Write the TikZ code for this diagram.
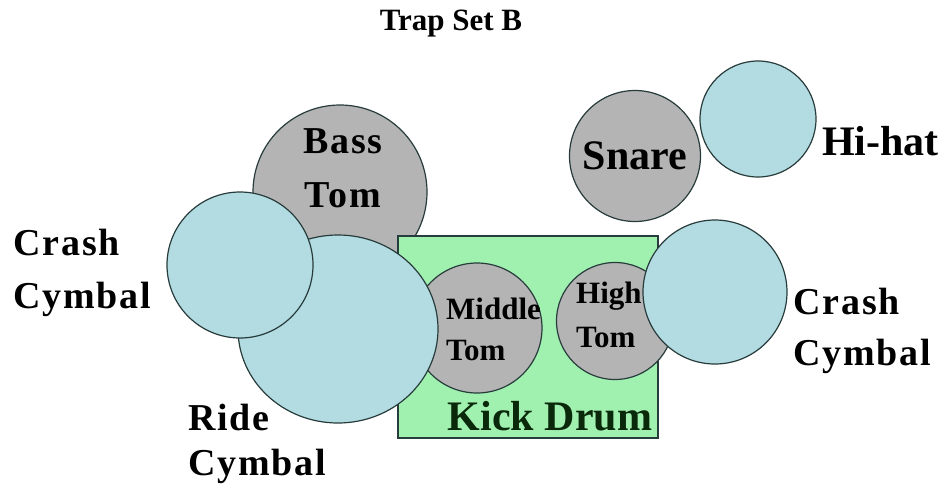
\documentclass[tikz,border=0pt]{standalone}
\usepackage{fontspec}
\setmainfont{Liberation Serif}
\newfontfamily\wideserif[LetterSpace=5]{Liberation Serif}
\usetikzlibrary{shapes,positioning}

\definecolor{drumgray}{RGB}{180,180,180}
\definecolor{cymblue}{RGB}{178,220,226}
\definecolor{kickgreen}{RGB}{160,240,176}
\definecolor{edge}{RGB}{40,60,60}
\definecolor{kicktext}{RGB}{10,40,10}

\begin{document}
\begin{tikzpicture}[
    x=1pt, y=-1pt,
    drum/.style={
        circle,
        draw=edge,
        fill=drumgray,
        line width=1.2pt,
        inner sep=0pt
    },
    cymbal/.style={
        circle,
        draw=edge,
        fill=cymblue,
        line width=1.2pt,
        inner sep=0pt
    },
    biglbl/.style={font=\bfseries\fontsize{42}{48}\selectfont, inner sep=0pt},
    widelbl/.style={font=\wideserif\bfseries\fontsize{38}{52}\selectfont, align=left, inner sep=0pt},
    tomlbl/.style={font=\bfseries\fontsize{31}{42}\selectfont, align=left, inner sep=0pt}
]
    \useasboundingbox (0,0) rectangle (945,491);

    % Title
    \node[font=\bfseries\fontsize{31}{36}\selectfont, anchor=base, inner sep=0pt] (title) at (451,30) {Trap Set B};

    % Drums and cymbals, back to front
    \node[drum, minimum size=174pt] (basstom) at (340,192) {};
    \node[rectangle, draw=edge, fill=kickgreen, line width=1.2pt,
          minimum width=260pt, minimum height=202pt] (kick) at (528,337) {};
    \node[drum, minimum size=130pt] (middletom) at (477,328) {};
    \node[drum, minimum size=117pt] (hightom) at (615,321) {};
    \node[cymbal, ellipse, minimum width=200pt, minimum height=188pt] (ride) at (338,329) {};
    \node[cymbal, minimum size=146pt] (leftcrash) at (240,265) {};
    \node[cymbal, minimum size=144pt] (rightcrash) at (715,292) {};
    \node[drum, minimum size=131pt, biglbl] (snare) at (635,156) {Snare};
    \node[cymbal, minimum size=116pt] (hihat) at (758,119) {};

    % Labels (base anchor sits on the last line)
    \node[widelbl, align=center, anchor=base] (basslbl) at (343,207) {Bass\\[2pt]Tom};
    \node[tomlbl, anchor=base west] (middlelbl) at (446,360) {Middle\\[-1pt]Tom};
    \node[tomlbl, anchor=base west] (highlbl) at (576,347) {High\\[2pt]Tom};
    \node[biglbl, text=kicktext, anchor=base] (kicklbl) at (550,430) {Kick Drum};
    \node[widelbl, anchor=base west] (leftcrashlbl) at (13,308) {Crash\\[1pt]Cymbal};
    \node[widelbl, anchor=base west] (rightcrashlbl) at (793,365) {Crash\\[-1pt]Cymbal};
    \node[widelbl, anchor=base west] (ridelbl) at (188,475) {Ride\\[-7pt]Cymbal};
    \node[biglbl, anchor=base west] (hihatlbl) at (822,155) {Hi-hat};

\end{tikzpicture}
\end{document}
